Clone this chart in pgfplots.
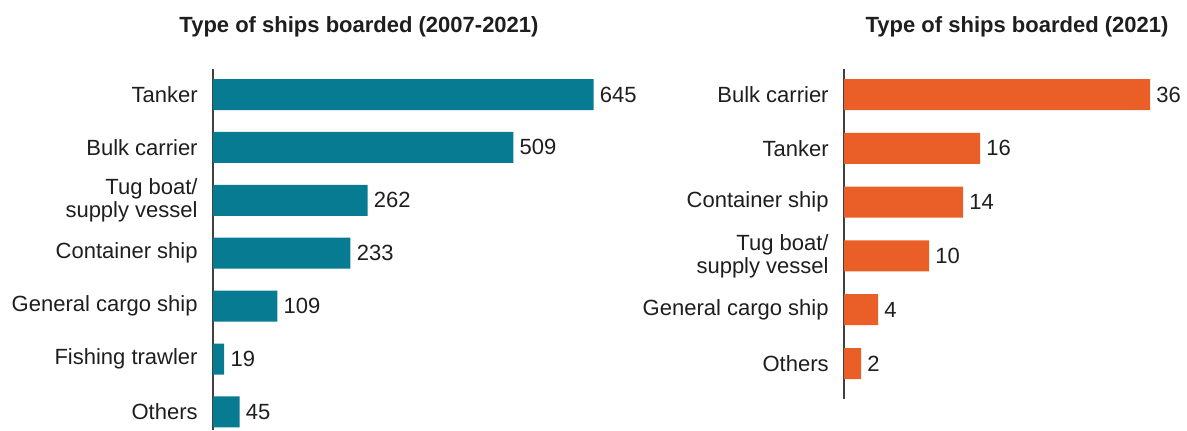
\documentclass[border=0pt]{standalone}
\usepackage{fontspec}
\setmainfont{Liberation Sans}
\usepackage{pgfplots}
\pgfplotsset{compat=1.18}
\definecolor{shipteal}{HTML}{067B92}
\definecolor{shiporange}{HTML}{E95F27}
\definecolor{txt}{HTML}{1E1E1E}
\begin{document}
\begin{tikzpicture}
\useasboundingbox (0,0) rectangle (593.5pt,-215pt);
\pgfplotsset{ship/.style={
  xbar, y dir=reverse,
  axis x line=none, axis y line*=left,
  y axis line style={-, draw=black!75, line width=0.6pt},
  xmin=0, ytick=data, major tick length=0pt, ytick style={draw=none},
  clip=false, anchor=north west,
  yticklabel style={align=right, font=\fontsize{11}{11.5}\selectfont, text=txt, inner xsep=0pt, xshift=-7.5pt},
  nodes near coords,
  nodes near coords style={anchor=west, inner xsep=0pt, xshift=3pt, font=\fontsize{11}{11.5}\selectfont, text=txt},
  /pgf/number format/assume math mode=true,
  bar width=15.5pt,
}}
\begin{axis}[ship, at={(106.5pt,-34.5pt)}, x=0.295pt, y=26.45pt, xmax=700, ymin=-0.482, ymax=6.34,
  yticklabels={Tanker, Bulk carrier, {Tug boat/\\supply vessel}, Container ship, General cargo ship, Fishing trawler, Others}]
\addplot[fill=shipteal, draw=none] coordinates {(645,0) (509,1) (262,2) (233,3) (109,4) (19,5) (45,6)};
\end{axis}
\begin{axis}[ship, at={(422pt,-34.5pt)}, x=4.25pt, y=26.9pt, xmax=40, ymin=-0.474, ymax=5.66,
  yticklabels={Bulk carrier, Tanker, Container ship, {Tug boat/\\supply vessel}, General cargo ship, Others}]
\addplot[fill=shiporange, draw=none] coordinates {(36,0) (16,1) (14,2) (10,3) (4,4) (2,5)};
\end{axis}
\node[font=\bfseries\fontsize{11}{13}\selectfont, text=txt] at (179.5pt,-13.5pt) {Type of ships boarded (2007-2021)};
\node[font=\bfseries\fontsize{11}{13}\selectfont, text=txt] at (508.5pt,-13.5pt) {Type of ships boarded (2021)};
\end{tikzpicture}
\end{document}
